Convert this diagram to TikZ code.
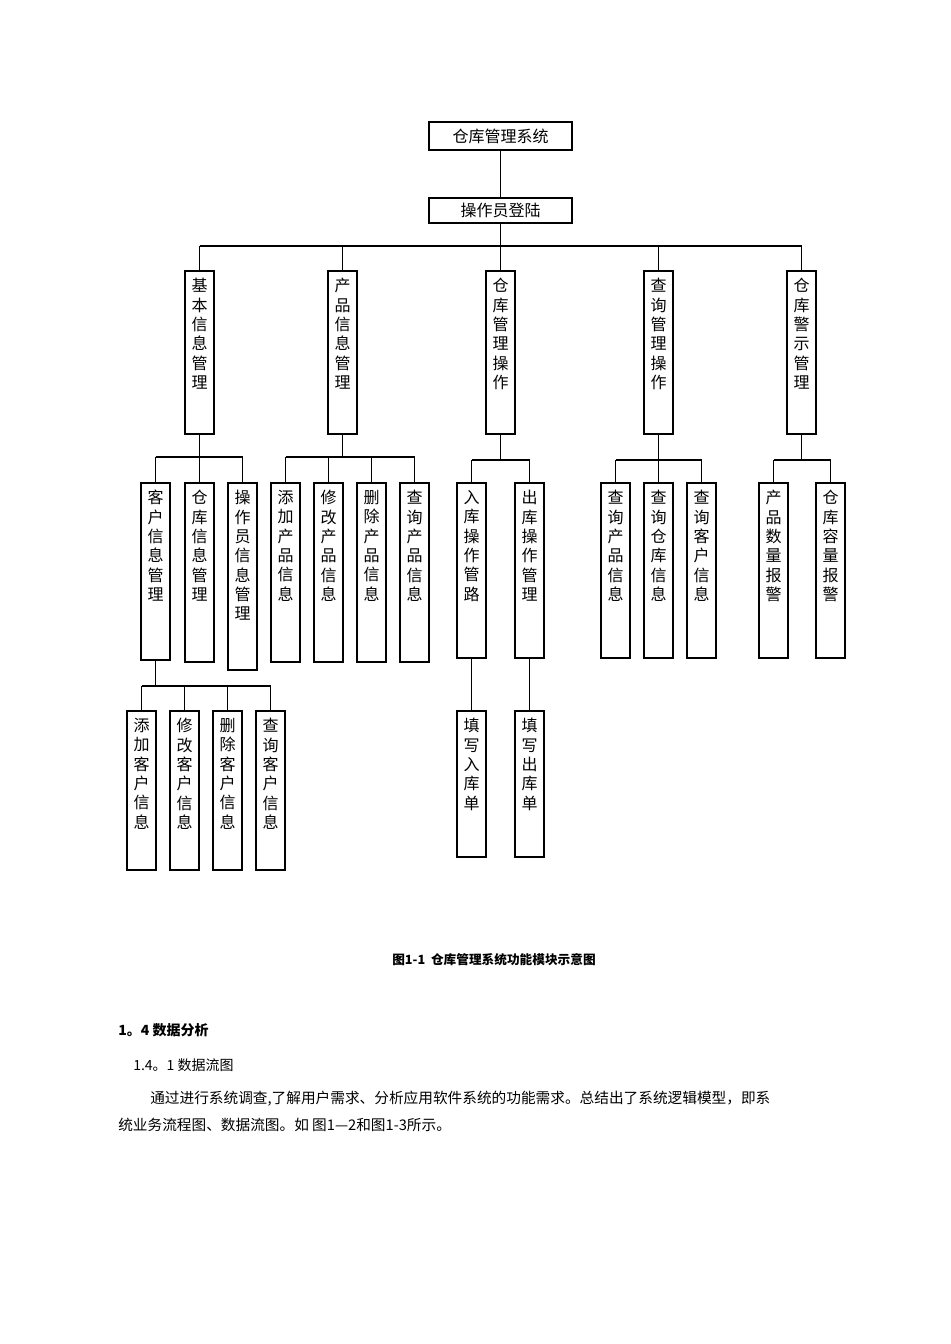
\documentclass[tikz,border=0pt]{standalone}
\usepackage{fontspec}
\setmainfont{Liberation Serif}
\newfontfamily\cjk{Noto Sans CJK SC}
\begin{document}
\begin{tikzpicture}[x=0.75pt,y=-0.75pt,
  bx/.style={draw,line width=0.8pt,inner sep=0pt},
  vt/.style={anchor=north,align=center,inner sep=0pt,font=\cjk\fontsize{12}{14.5}\selectfont},
  ln/.style={line width=0.8pt}]
\useasboundingbox (0,0) rectangle (950,1344);
\newcommand\B[6]{%
  \node[bx,minimum width={(#4-#2)*0.75pt},minimum height={(#5-#3)*0.75pt}] (#1) at ({(#2+#4)/2},{(#3+#5)/2}) {};
  \node[vt] at ({(#2+#4)/2},{#3+7}) {#6};}
\node[bx,minimum width={143*0.75pt},minimum height={28*0.75pt},font=\cjk\fontsize{12}{14}\selectfont] (top) at (500.5,136) {仓库管理系统};
\node[bx,minimum width={143*0.75pt},minimum height={25*0.75pt},font=\cjk\fontsize{12}{14}\selectfont] (op) at (500.5,210.5) {操作员登陆};
\draw[ln] (top.south) -- (op.north);
% level 2
\B{a}{185}{271}{214}{434}{基\\本\\信\\息\\管\\理}
\B{b}{328}{271}{357}{434}{产\\品\\信\\息\\管\\理}
\B{c}{486}{271}{515}{434}{仓\\库\\管\\理\\操\\作}
\B{d}{644}{271}{673}{434}{查\\询\\管\\理\\操\\作}
\B{e}{787}{271}{816}{434}{仓\\库\\警\\示\\管\\理}
\coordinate (bus0) at (0,246);
\draw[ln] (op.south) -- (op.south|-bus0);
\draw[ln] (a.north|-bus0) -- (e.north|-bus0);
\foreach \n in {a,b,c,d,e} \draw[ln] (\n.north) -- (\n.north|-bus0);
% level 3
\B{a1}{141}{483}{170}{660}{客\\户\\信\\息\\管\\理}
\B{a2}{185}{483}{214}{662}{仓\\库\\信\\息\\管\\理}
\B{a3}{228}{483}{257}{670}{操\\作\\员\\信\\息\\管\\理}
\B{b1}{271}{483}{300}{662}{添\\加\\产\\品\\信\\息}
\B{b2}{314}{483}{343}{662}{修\\改\\产\\品\\信\\息}
\B{b3}{357}{483}{386}{662}{删\\除\\产\\品\\信\\息}
\B{b4}{400}{483}{429}{662}{查\\询\\产\\品\\信\\息}
\B{c1}{457}{483}{486}{658}{入\\库\\操\\作\\管\\路}
\B{c2}{515}{483}{544}{658}{出\\库\\操\\作\\管\\理}
\B{d1}{601}{483}{630}{658}{查\\询\\产\\品\\信\\息}
\B{d2}{644}{483}{673}{658}{查\\询\\仓\\库\\信\\息}
\B{d3}{687}{483}{716}{658}{查\\询\\客\\户\\信\\息}
\B{e1}{759}{483}{788}{658}{产\\品\\数\\量\\报\\警}
\B{e2}{816}{483}{845}{658}{仓\\库\\容\\量\\报\\警}
\coordinate (bus1) at (0,457);
\coordinate (bus1b) at (0,460);
\foreach \p/\f/\l/\cs/\bb in {a/a1/a3/{a1,a2,a3}/bus1, b/b1/b4/{b1,b2,b3,b4}/bus1, c/c1/c2/{c1,c2}/bus1b, d/d1/d3/{d1,d2,d3}/bus1b, e/e1/e2/{e1,e2}/bus1b}{
  \draw[ln] (\p.south) -- (\p.south|-\bb);
  \draw[ln] (\f.north|-\bb) -- (\l.north|-\bb);
  \foreach \q in \cs \draw[ln] (\q.north) -- (\q.north|-\bb);
}
% level 4
\B{f1}{127}{711}{156}{870}{添\\加\\客\\户\\信\\息}
\B{f2}{170}{711}{199}{870}{修\\改\\客\\户\\信\\息}
\B{f3}{213}{711}{242}{870}{删\\除\\客\\户\\信\\息}
\B{f4}{256}{711}{285}{870}{查\\询\\客\\户\\信\\息}
\coordinate (bus2) at (0,686);
\draw[ln] (a1.south) -- (a1.south|-bus2);
\draw[ln] (f1.north|-bus2) -- (f4.north|-bus2);
\foreach \q in {f1,f2,f3,f4} \draw[ln] (\q.north) -- (\q.north|-bus2);
\B{g1}{457}{711}{486}{857}{填\\写\\入\\库\\单}
\B{g2}{515}{711}{544}{857}{填\\写\\出\\库\\单}
\draw[ln] (c1.south) -- (g1.north);
\draw[ln] (c2.south) -- (g2.north);
% text
\node[font=\cjk\bfseries\fontsize{9.5}{11}\selectfont] (cap) at (494,960) {图1-1\ \ 仓库管理系统功能模块示意图};
\node[anchor=west,inner sep=0pt,font=\cjk\bfseries\fontsize{10.5}{12}\selectfont] (h1) at (118,1030) {1。4 数据分析};
\node[anchor=west,inner sep=0pt,font=\cjk\fontsize{10.5}{12}\selectfont] (h2) at (133,1065) {1.4。1 数据流图};
\node[anchor=west,inner sep=0pt,font=\cjk\fontsize{11}{12}\selectfont] (p1) at (150,1099) {通过进行系统调查,了解用户需求、分析应用软件系统的功能需求。总结出了系统逻辑模型，即系};
\node[anchor=west,inner sep=0pt,font=\cjk\fontsize{11}{12}\selectfont] (p2) at (118,1125) {统业务流程图、数据流图。如 图1—2和图1-3所示。};
\end{tikzpicture}
\end{document}
